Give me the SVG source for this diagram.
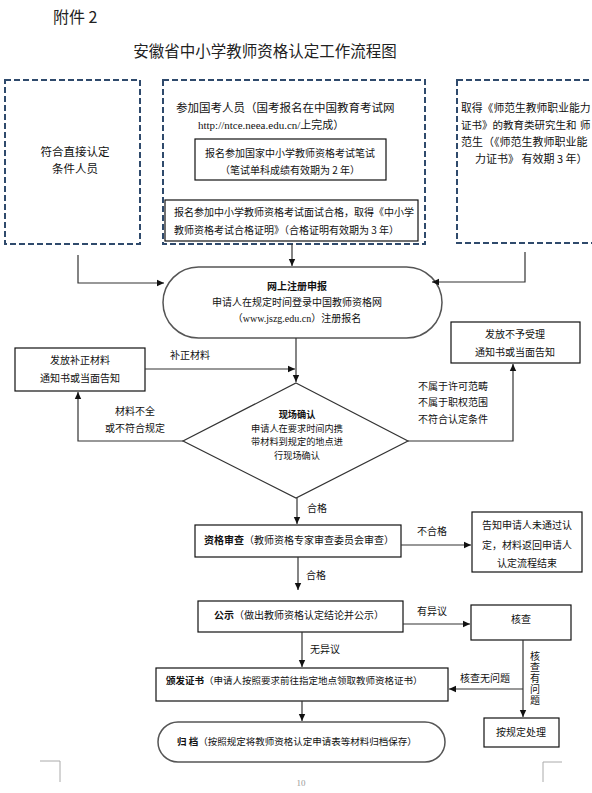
<svg xmlns="http://www.w3.org/2000/svg" width="592" height="793" viewBox="0 0 592 793">
<style>
text{font-family:"Noto Sans CJK SC","Noto Sans",sans-serif;fill:#111;}
.t{font-size:10px;}
.m{font-size:11.5px;}
.r{font-size:11px;}
.d{font-size:9.2px;}
.c{text-anchor:middle;}
.b{font-weight:bold;}
.serif{font-family:"Liberation Serif","Noto Sans CJK SC",serif;}
.dash{fill:none;stroke:#2f4a6c;stroke-width:2;stroke-dasharray:6 3;}
.box{fill:#fff;stroke:#111;stroke-width:1.2;}
.oval{fill:#fff;stroke:#555;stroke-width:1.5;}
.ln{fill:none;stroke:#333;stroke-width:1.2;}
.mark{fill:none;stroke:#aaa;stroke-width:1;}
</style>
<defs>
<marker id="ah" markerWidth="8" markerHeight="8" refX="7" refY="4" orient="auto" markerUnits="userSpaceOnUse">
<path d="M0,0.8 L7,4 L0,7.2 Z" fill="#111"/>
</marker>
</defs>
<rect width="592" height="793" fill="#fff"/>
<g id="header">
<text x="53" y="23" style="font-size:16px;fill:#222">附件 2</text>
<text x="265" y="57" class="c" style="font-size:15.5px;fill:#222">安徽省中小学教师资格认定工作流程图</text>
</g>
<g id="direct">
<rect class="dash" x="5" y="80" width="135" height="164"/>
<text x="75" y="156" class="m c">符合直接认定</text>
<text x="75" y="173" class="m c">条件人员</text>
</g>
<g id="national">
<rect class="dash" x="163" y="80" width="262" height="164"/>
<text x="176" y="112" class="m">参加国考人员（国考报名在中国教育考试网</text>
<text x="198" y="129" style="font-size:11px"><tspan class="serif">http://ntce.neea.edu.cn/</tspan>上完成）</text>
</g>
<g id="written">
<rect class="box" x="195" y="139" width="191" height="41"/>
<text x="290" y="157" class="t c">报名参加国家中小学教师资格考试笔试</text>
<text x="290" y="174" class="t c">（笔试单科成绩有效期为 2 年）</text>
</g>
<g id="interview">
<rect class="box" x="165" y="200" width="253" height="41"/>
<text x="174" y="216" class="t">报名参加中小学教师资格考试面试合格，取得《中小学</text>
<text x="174" y="234" class="t">教师资格考试合格证明》（合格证明有效期为 3 年）</text>
</g>
<g id="normal">
<rect class="dash" x="457" y="80" width="200" height="163"/>
<text x="461" y="112" style="font-size:10.8px">取得《师范生教师职业能力</text>
<text x="461" y="129" style="font-size:10.5px">证书》的教育类研究生和</text>
<text x="580" y="129" style="font-size:10.5px">师</text>
<text x="461" y="146" class="r">范生（《师范生教师职业能</text>
<text x="475" y="163" class="r">力证书》 有效期 3 年）</text>
</g>
<g id="register">
<rect class="oval" x="163" y="267" width="279" height="71" rx="35.5" ry="35.5"/>
<text x="297" y="290" class="t c b">网上注册申报</text>
<text x="297" y="306" class="t c">申请人在规定时间登录中国教师资格网</text>
<text x="297" y="322" class="t c">（<tspan class="serif">www.jszg.edu.cn</tspan>）注册报名</text>
</g>
<g id="supplement">
<rect class="box" x="15" y="348" width="130" height="43"/>
<text x="80" y="364" class="t c">发放补正材料</text>
<text x="80" y="382" class="t c">通知书或当面告知</text>
</g>
<g id="reject">
<rect class="box" x="451" y="322" width="129" height="41"/>
<text x="515" y="338" class="t c">发放不予受理</text>
<text x="515" y="356" class="t c">通知书或当面告知</text>
</g>
<g id="confirm">
<path class="box" style="stroke:#333" d="M296,383 L408,441 L296,498 L183,441 Z"/>
<text x="297" y="418" class="d c b">现场确认</text>
<text x="297" y="431.5" class="d c">申请人在要求时间内携</text>
<text x="297" y="445" class="d c">带材料到规定的地点进</text>
<text x="297" y="458.5" class="d c">行现场确认</text>
</g>
<g id="review">
<rect class="box" x="195" y="525" width="206" height="32"/>
<text x="204" y="544" class="t"><tspan class="b">资格审查</tspan>（教师资格专家审查委员会审查）</text>
</g>
<g id="fail">
<rect class="box" x="472" y="512" width="110" height="60"/>
<text x="527" y="529" class="t c">告知申请人未通过认</text>
<text x="527" y="549" class="t c">定，材料返回申请人</text>
<text x="527" y="567" class="t c">认定流程结束</text>
</g>
<g id="publicity">
<rect class="box" x="198" y="601" width="205" height="31"/>
<text x="214" y="619" class="t"><tspan class="b">公示</tspan>（做出教师资格认定结论并公示）</text>
</g>
<g id="verify">
<rect class="box" x="471" y="605" width="100" height="35"/>
<text x="521" y="623" class="t c">核查</text>
</g>
<g id="issue">
<rect class="box" x="156" y="668" width="292" height="33"/>
<text x="166" y="684" style="font-size:9.5px"><tspan class="b">颁发证书</tspan>（申请人按照要求前往指定地点领取教师资格证书）</text>
</g>
<g id="handle">
<rect class="box" x="484" y="718" width="75" height="29"/>
<text x="521" y="736" class="t c">按规定处理</text>
</g>
<g id="archive">
<rect class="oval" x="158" y="722" width="287" height="40" rx="20" ry="20"/>
<text x="177" y="745" style="font-size:9.5px"><tspan class="b">归 档</tspan>（按照规定将教师资格认定申请表等材料归档保存）</text>
</g>
<g id="connectors">
<path class="ln" d="M78,255 V283 H164" marker-end="url(#ah)"/>
<path class="ln" d="M292,244 V266" marker-end="url(#ah)"/>
<path class="ln" d="M525,252 V282 H432" marker-end="url(#ah)"/>
<path class="ln" d="M296,338 V382" marker-end="url(#ah)"/>
<path class="ln" d="M145,369 H295" marker-end="url(#ah)"/>
<path class="ln" d="M183,441 H78 V392" marker-end="url(#ah)"/>
<path class="ln" d="M408,441 H513 V364" marker-end="url(#ah)"/>
<path class="ln" d="M297,498 V524" marker-end="url(#ah)"/>
<path class="ln" d="M401,545 H471" marker-end="url(#ah)"/>
<path class="ln" d="M298,557 V590" marker-end="url(#ah)"/>
<path class="ln" d="M403,624 H470" marker-end="url(#ah)"/>
<path class="ln" d="M302,632 V667" marker-end="url(#ah)"/>
<path class="ln" d="M523,640 V717" marker-end="url(#ah)"/>
<path class="ln" d="M523,689 H449" marker-end="url(#ah)"/>
<path class="ln" d="M302,701 V721" marker-end="url(#ah)"/>
</g>
<g id="labels">
<text x="170" y="359" class="t">补正材料</text>
<text x="135" y="415" class="t c">材料不全</text>
<text x="135" y="432" class="t c">或不符合规定</text>
<text x="418" y="390" class="t">不属于许可范畴</text>
<text x="418" y="406" class="t">不属于职权范围</text>
<text x="418" y="423" class="t">不符合认定条件</text>
<text x="307" y="512" class="t">合格</text>
<text x="417" y="535" class="t">不合格</text>
<text x="306" y="579" class="t">合格</text>
<text x="417" y="615" class="t">有异议</text>
<text x="310" y="653" class="t">无异议</text>
<text x="460" y="682" class="t">核查无问题</text>
<text x="535" y="651" class="t" style="writing-mode:vertical-rl;letter-spacing:1px">核查有问题</text>
</g>
<g id="page">
<path class="mark" d="M40,761 H60 V782"/>
<path class="mark" d="M562,762 H543 V782"/>
<text x="301" y="786" class="c" style="font-size:9px;fill:#999;font-family:'Liberation Serif',serif">10</text>
</g>
</svg>
